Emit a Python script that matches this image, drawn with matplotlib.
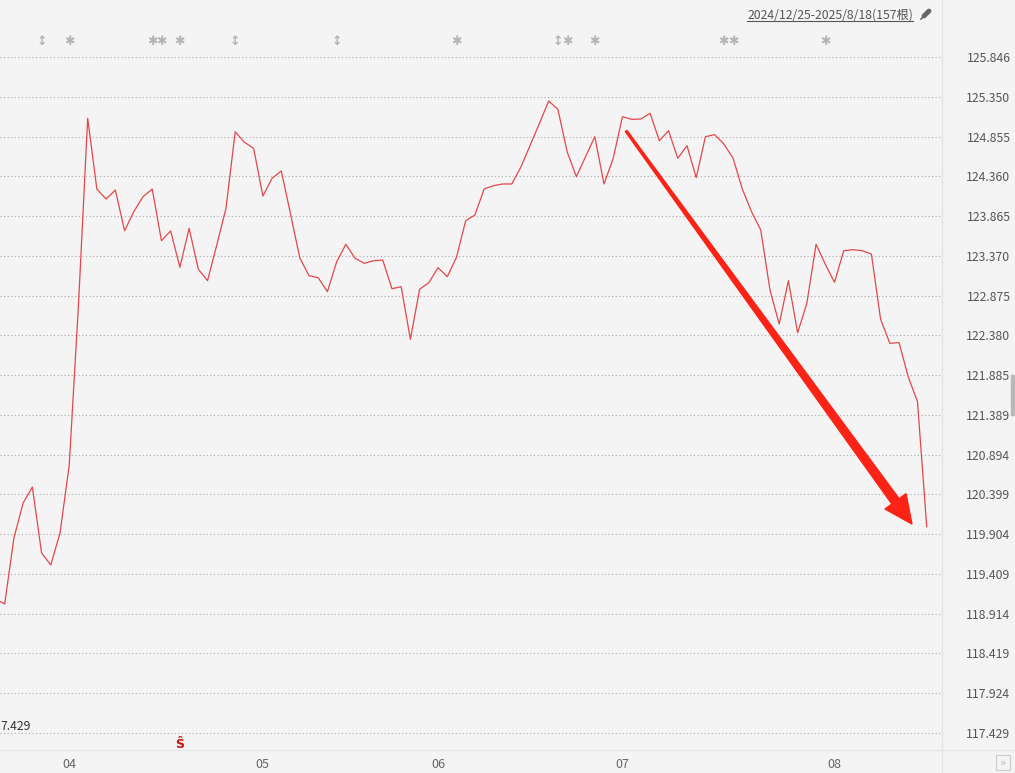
import matplotlib
matplotlib.use("Agg")
import matplotlib.pyplot as plt
import numpy as np
from matplotlib.lines import Line2D
from matplotlib.patches import Polygon, Rectangle

# daily closes, 2025-03 .. 2025-08-18 (visible part of the 157 bars)
closes = [
    119.098, 119.035, 119.857, 120.293, 120.492, 119.670, 119.521, 119.919, 120.766, 122.758,
    125.083, 124.199, 124.078, 124.190, 123.683, 123.920, 124.107, 124.202, 123.559, 123.680,
    123.228, 123.713, 123.203, 123.061, 123.505, 123.962, 124.916, 124.784, 124.709, 124.115,
    124.336, 124.427, 123.891, 123.347, 123.123, 123.098, 122.924, 123.294, 123.514, 123.340,
    123.277, 123.310, 123.318, 122.961, 122.986, 122.331, 122.954, 123.036, 123.223, 123.111,
    123.352, 123.808, 123.879, 124.202, 124.244, 124.265, 124.265, 124.480, 124.750, 125.020,
    125.298, 125.195, 124.667, 124.356, 124.605, 124.854, 124.265, 124.585, 125.103, 125.070,
    125.074, 125.145, 124.804, 124.928, 124.585, 124.742, 124.343, 124.854, 124.879, 124.763,
    124.585, 124.202, 123.920, 123.692, 122.945, 122.522, 123.061, 122.413, 122.779, 123.514,
    123.265, 123.041, 123.434, 123.447, 123.434, 123.393, 122.580, 122.281, 122.290, 121.862,
    121.554, 119.998,
]

price_levels = [125.846, 125.350, 124.855, 124.360, 123.865, 123.370, 122.875, 122.380, 121.885,
                121.389, 120.894, 120.399, 119.904, 119.409, 118.914, 118.419, 117.924, 117.429]
month_labels = ["04", "05", "06", "07", "08"]
month_pos = [8, 29, 48, 68, 91]

event_bars = [5, 8, 17, 18, 20, 26, 37, 50, 61, 62, 65, 79, 80, 90]
event_marks = ["↕", "✱", "✱", "✱", "✱", "↕", "↕", "✱", "↕", "✱", "✱", "✱", "✱", "✱"]
signal_bar = 20
min_label = "7.429"  # the left-edge label as it shows in the chart
min_level = 117.429
trend_start = (68.4, 124.925)
trend_end = (99.4, 120.031)
range_title = "2024/12/25-2025/8/18(157根)"

bg = "#f4f4f4"
W, H = 1015, 773
fig = plt.figure(figsize=(W / 100, H / 100), dpi=100, facecolor=bg)
ax = fig.add_axes([0, 23 / H, 941 / W, 750 / H], facecolor=bg)

x = np.arange(len(closes))
ax.plot(x, closes, color="#e4474a", lw=0.9, zorder=3)

ax.set_xlim(0.49, 102.55)
ax.set_ylim(117.217, 126.556)
for s in ax.spines.values():
    s.set_visible(False)

ax.set_yticks(price_levels)
ax.set_yticklabels([f"{v:.3f}" for v in price_levels])
ax.yaxis.tick_right()
ax.tick_params(axis="y", length=0, pad=50, labelsize=8.8, labelcolor="#555555")
for lbl in ax.get_yticklabels():
    lbl.set_ha("right")
    lbl.set_family(["Noto Sans CJK SC", "DejaVu Sans"])
ax.grid(axis="y", color="#ababab", lw=0.8, linestyle=(0, (1, 2.2)))

ax.set_xticks(month_pos)
ax.set_xticklabels(month_labels)
ax.tick_params(axis="x", length=0, pad=6, labelsize=9, labelcolor="#666666")
for lbl in ax.get_xticklabels():
    lbl.set_family(["Noto Sans CJK SC", "DejaVu Sans"])

# event markers along the top
for b, m in zip(event_bars, event_marks):
    ax.text(b, 126.045, m, ha="center", va="center", fontsize=9, color="#b4b4b4",
            family="DejaVu Sans", fontweight="bold")

# signal marker at bottom
ax.text(signal_bar, 117.29, "Ŝ", ha="center", va="center", fontsize=9, color="#cc1111",
        fontweight="bold", family="DejaVu Sans")

# minimum label on the left edge
ax.text(0, min_level, min_label, transform=ax.get_yaxis_transform(), ha="left",
        va="bottom", fontsize=8.8, color="#333333",
        family=["Noto Sans CJK SC", "DejaVu Sans"])

# tapered trend arrow, built in pixel space
p0 = ax.transData.transform(trend_start)
p1 = ax.transData.transform(trend_end)
d = p1 - p0
u = d / np.hypot(*d)
n = np.array([-u[1], u[0]])
head_len, head_w, tail_w, neck_w = 28, 13, 1.0, 4.5
base = p1 - u * head_len
pts = [p0 + n * tail_w, base + n * neck_w, base + n * head_w, p1,
       base - n * head_w, base - n * neck_w, p0 - n * tail_w]
fig.patches.append(Polygon(pts, closed=True, transform=None, color="#fb2315", zorder=5))

# panel separators
fig.add_artist(Line2D([942 / W, 942 / W], [0, 1], color="#e4e4e4", lw=1))
fig.add_artist(Line2D([0, 1], [23 / H, 23 / H], color="#e8e8e8", lw=1))
fig.patches.append(Rectangle((1011 / W, 1 - 415 / H), 4 / W, 40 / H, transform=fig.transFigure,
                             color="#b8b8b8"))
fig.patches.append(Rectangle((996 / W, 3 / H), 14 / W, 15 / H, transform=fig.transFigure,
                             fill=False, ec="#cccccc", lw=0.8))
fig.text(1003 / W, 10.5 / H, "»", ha="center", va="center", fontsize=8, color="#bbbbbb")

# date range title, underlined, with a pin
t = fig.text(913 / W, 1 - 15 / H, range_title, ha="right", va="center", fontsize=8.8,
             color="#555555", family=["Noto Sans CJK SC", "DejaVu Sans"])
fig.canvas.draw()
bb = t.get_window_extent()
fig.add_artist(Line2D([bb.x0 / W, bb.x1 / W], [(bb.y0 + 1) / H, (bb.y0 + 1) / H],
                      color="#555555", lw=0.8))
fig.add_artist(Line2D([921 / W, 925 / W], [1 - 19 / H, 1 - 15 / H], color="#666666", lw=1.2))
fig.add_artist(Line2D([924 / W, 929 / W], [1 - 16 / H, 1 - 11 / H], color="#666666", lw=3.5,
                      solid_capstyle="round"))

fig.savefig("out.png", dpi=100, facecolor=bg)
